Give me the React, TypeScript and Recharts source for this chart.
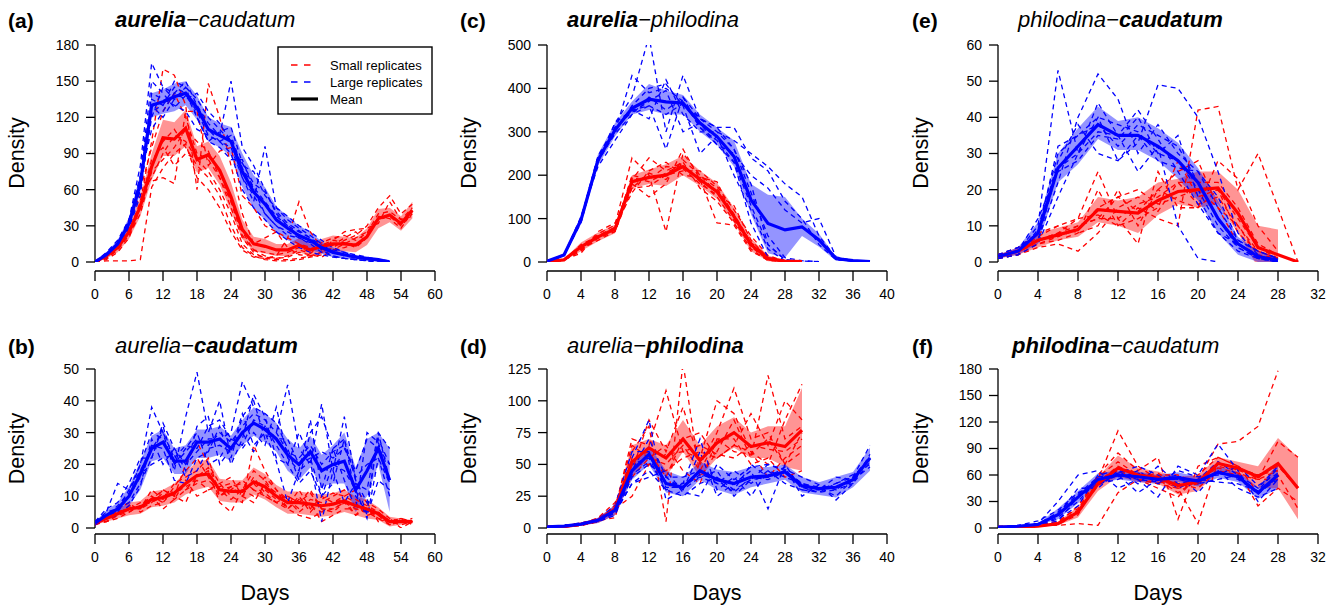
import React from 'react';
import { ComposedChart, Line, Area, XAxis, YAxis, ReferenceLine } from 'recharts';

const FONT = '"Liberation Sans", Arial, Helvetica, sans-serif';
const RED = '#ff0000';
const BLUE = '#0000ff';

// ---------- day categories ----------
const daysAB = [0, 2, 4, 6, 8, 10, 12, 14, 16, 18, 20, 22, 24, 26, 28, 30, 32, 34, 36, 38, 40, 42, 44, 46, 48, 50, 52, 54, 56];
const daysCD = [0, 2, 4, 6, 8, 10, 12, 14, 16, 18, 20, 22, 24, 26, 28, 30, 32, 34, 36, 38];
const daysEF = [0, 2, 4, 6, 8, 10, 12, 14, 16, 18, 20, 22, 24, 26, 28, 30];

// ---------- tick labels ----------
const xTicksAB = [0, 6, 12, 18, 24, 30, 36, 42, 48, 54, 60];
const xTicksCD = [0, 4, 8, 12, 16, 20, 24, 28, 32, 36, 40];
const xTicksEF = [0, 4, 8, 12, 16, 20, 24, 28, 32];
const yTicksA = [0, 30, 60, 90, 120, 150, 180];
const yTicksB = [0, 10, 20, 30, 40, 50];
const yTicksC = [0, 100, 200, 300, 400, 500];
const yTicksD = [0, 25, 50, 75, 100, 125];
const yTicksE = [0, 10, 20, 30, 40, 50, 60];
const yTicksF = [0, 30, 60, 90, 120, 150, 180];

// ---------- panel (a) ----------
const aSmall = [
  [0, 4, 12, 30, 60, 95, 125, 140, 120, 90, 85, 70, 45, 20, 8, 3, 2, 2, 3, 5, 8, 12, 18, 22, 30, 45, 55, 40, 48],
  [0, 2, 8, 20, 45, 80, 100, 110, 95, 80, 70, 55, 30, 12, 5, 2, 1, 1, 2, 4, 6, 10, 12, 15],
  [0, 5, 15, 35, 55, 70, 90, 105, 100, 85, 90, 75, 50, 25, 10, 5, 3, 4, 8, 6, 4, 10, 15, 20, 25, 35, 38, 30, 40],
  [0, 1, 1, 1, 2, 62, 78, 90, 98, 70, 60, 45, 25, 10, 4, 3, 5, 20, 50, 25, 12, 8],
  [0, 3, 10, 25, 50, 100, 160, 155, 130, 60, 148, 120, 80, 40, 15, 20, 25, 12, 6, 5, 8, 14, 20, 25, 16],
  [0, 4, 14, 28, 65, 67, 70, 65, 125, 125, 80, 92, 95, 55, 45, 30, 25, 20, 15, 12, 10, 18, 25, 27, 28, 32, 50, 35, 38],
  [0, 3, 10, 22, 40, 75, 85, 95, 110, 100, 92, 70, 50, 22, 10, 8, 6, 8, 12, 8, 16, 20, 22, 18, 24, 40, 42, 35, 45],
  [0, 5, 12, 26, 48, 85, 95, 80, 90, 85, 75, 60, 40, 15, 6, 4, 3, 5, 10, 7, 14, 18, 16, 12, 20, 38, 36, 28, 42],
];
const aLarge = [
  [0, 8, 18, 35, 80, 165, 145, 140, 150, 130, 115, 105, 150, 95, 80, 60, 40, 30, 25, 20, 10, 5, 3, 2, 1, 0, 0],
  [0, 5, 15, 30, 60, 120, 145, 135, 140, 120, 100, 95, 85, 85, 60, 40, 30, 25, 20, 15, 8, 5, 3, 2, 1],
  [0, 6, 12, 28, 55, 135, 130, 150, 145, 135, 120, 110, 100, 70, 50, 96, 45, 35, 28, 22, 15, 8, 5, 4, 3, 2, 1],
  [0, 4, 14, 32, 70, 110, 125, 140, 135, 140, 125, 115, 100, 80, 75, 55, 45, 38, 30, 25, 18, 12, 8, 5, 2, 1, 0],
  [0, 7, 16, 35, 65, 140, 135, 130, 125, 110, 105, 100, 90, 60, 45, 35, 25, 18, 12, 8, 6, 4, 3, 2, 1, 0],
  [0, 5, 15, 30, 60, 125, 130, 145, 140, 130, 110, 100, 95, 70, 55, 40, 30, 22, 20, 16, 12, 10, 8, 6, 4, 2, 0],
  [0, 6, 16, 34, 72, 150, 140, 128, 138, 125, 105, 100, 105, 78, 62, 50, 38, 30, 22, 18, 12, 8, 6, 4, 3, 2, 0],
  [0, 5, 14, 30, 62, 130, 120, 135, 145, 120, 100, 108, 112, 82, 65, 58, 42, 32, 26, 20, 14, 9, 6, 4, 2, 1, 0],
];
const aMeanSmall = [0, 5, 12, 25, 46, 79, 103, 102, 111, 85, 89, 76, 54, 27, 15, 13, 10, 10, 14, 10, 13, 15, 15, 14, 21, 36, 39, 32, 43];
const aLoSmall = [0, 3, 8, 19, 38, 68, 88, 88, 96, 74, 78, 64, 42, 19, 9, 7, 5, 5, 8, 5, 7, 8, 9, 8, 14, 28, 33, 26, 36];
const aHiSmall = [0, 7, 16, 31, 54, 90, 118, 116, 126, 96, 100, 88, 66, 35, 21, 19, 15, 15, 20, 15, 19, 22, 21, 20, 28, 44, 45, 38, 50];
const aMeanLarge = [0, 6, 15, 32, 65, 130, 133, 137, 140, 128, 110, 105, 100, 75, 58, 48, 35, 28, 22, 18, 12, 8, 6, 4, 3, 2, 0];
const aLoLarge = [0, 4, 12, 27, 57, 120, 123, 125, 130, 118, 100, 95, 88, 62, 44, 35, 24, 18, 14, 10, 7, 4, 3, 2, 1, 0, 0];
const aHiLarge = [0, 8, 18, 37, 73, 140, 143, 148, 150, 138, 120, 115, 112, 90, 72, 62, 46, 38, 30, 25, 17, 12, 9, 6, 4, 3, 1];

// ---------- panel (b) ----------
const bSmall = [
  [1, 2, 4, 5, 7, 8, 12, 10, 20, 27, 20, 14, 10, 8, 26, 18, 12, 6, 4, 3, 5, 8, 10, 12, 8, 6, 3, 2, 2],
  [2, 3, 5, 6, 6, 12, 9, 14, 16, 18, 22, 10, 13, 14, 12, 10, 8, 10, 8, 12, 6, 5, 8, 4, 6, 3, 2, 1, 2],
  [1, 4, 6, 8, 5, 7, 8, 12, 12, 14, 15, 12, 9, 12, 18, 15, 10, 6, 10, 5, 9, 11, 10, 8, 4, 5, 2, 3, 1],
  [2, 2, 3, 5, 7, 10, 6, 9, 15, 10, 12, 14, 16, 10, 8, 14, 11, 9, 5, 8, 2, 4, 6, 6, 5, 3, 1, 2, 2],
  [1, 3, 4, 7, 6, 9, 12, 10, 8, 16, 18, 8, 5, 12, 14, 10, 8, 7, 12, 6, 10, 8, 9, 4, 8, 2, 3, 0, 2],
  [2, 4, 5, 6, 8, 8, 10, 11, 13, 15, 12, 13, 14, 12, 10, 12, 9, 10, 8, 11, 6, 6, 8, 6, 5, 4, 1, 2, 3],
  [1, 3, 5, 6, 7, 10, 8, 13, 18, 22, 16, 10, 12, 15, 12, 16, 12, 9, 6, 9, 8, 10, 12, 9, 7, 5, 2, 2, 2],
  [2, 2, 4, 7, 6, 8, 11, 9, 12, 16, 19, 12, 13, 10, 16, 11, 8, 6, 9, 7, 5, 6, 8, 7, 6, 4, 2, 3, 2],
];
const bLarge = [
  [1, 5, 14, 12, 20, 38, 30, 18, 35, 49, 30, 40, 22, 35, 40, 28, 30, 45, 25, 20, 39, 18, 35, 15, 8, 28, 20],
  [2, 3, 6, 8, 14, 22, 33, 25, 20, 24, 28, 28, 30, 46, 38, 36, 33, 25, 15, 30, 35, 25, 28, 10, 5, 30, 15],
  [1, 4, 5, 10, 16, 26, 25, 15, 14, 22, 24, 32, 20, 28, 42, 35, 22, 20, 30, 22, 10, 20, 18, 12, 3, 22, 10],
  [2, 6, 8, 14, 22, 22, 32, 20, 25, 30, 20, 22, 28, 25, 30, 26, 38, 22, 18, 34, 12, 25, 15, 6, 30, 27, 14],
  [1, 3, 4, 7, 13, 28, 20, 25, 18, 32, 35, 20, 25, 30, 24, 32, 26, 20, 14, 18, 10, 14, 28, 15, 4, 15, 12],
  [2, 4, 6, 10, 17, 20, 22, 23, 16, 18, 25, 26, 24, 36, 26, 30, 21, 8, 18, 21, 2, 18, 8, 14, 12, 30, 25],
  [1, 4, 7, 11, 20, 30, 28, 20, 24, 28, 26, 30, 27, 32, 36, 34, 30, 24, 22, 26, 20, 24, 26, 16, 20, 22, 14],
  [2, 5, 6, 12, 18, 25, 30, 22, 26, 25, 32, 34, 28, 26, 34, 32, 28, 28, 20, 22, 24, 22, 25, 18, 28, 25, 20],
];
const bMeanSmall = [1.5, 3, 4.5, 6, 6.5, 9, 9.5, 11, 14, 16.5, 17, 12, 11.5, 11.5, 14.5, 13, 10, 8, 8, 7.5, 7, 7.5, 8.5, 7, 6, 4.5, 2, 2, 2];
const bLoSmall = [1, 2, 3, 4, 4.5, 6.5, 7, 8, 10.5, 12, 13, 8.5, 8, 8, 10.5, 9, 6.5, 4.5, 4.5, 4, 3.5, 4, 5, 4, 3, 2.5, 0.5, 1, 1.5];
const bHiSmall = [2, 4, 6, 8, 8.5, 11.5, 12, 14, 17.5, 21, 21.5, 15.5, 15, 15, 19, 17, 13.5, 11.5, 11.5, 11, 10.5, 11, 12, 10, 9, 6.5, 3.5, 3, 2.5];
const bMeanLarge = [1.5, 4, 6, 10, 17, 25, 27, 21, 21, 27, 27, 28, 25, 30, 33, 31, 28, 23, 20, 24, 18, 20, 21, 12, 18, 25, 15];
const bLoLarge = [1, 2.5, 4, 7, 12, 21, 22, 17, 17, 22, 22, 23, 21, 26, 29, 27, 24, 18, 15, 19, 13, 14, 14, 5, 10, 20, 5];
const bHiLarge = [2, 5.5, 8, 13, 21, 29, 31, 25, 26, 31, 31, 32, 29, 34, 38, 36, 33, 28, 25, 29, 23, 26, 30, 19, 28, 30, 25];

// ---------- panel (c) ----------
const cSmall = [
  [1, 5, 25, 65, 85, 240, 200, 70, 250, 200, 160, 110, 35, 5, 1, 1],
  [1, 4, 35, 55, 75, 190, 240, 210, 230, 170, 140, 90, 30, 3, 1, 1],
  [1, 6, 20, 70, 90, 170, 175, 200, 210, 210, 175, 120, 60, 15, 2, 1],
  [1, 5, 30, 50, 70, 180, 150, 180, 260, 190, 90, 85, 25, 5, 1],
  [1, 4, 35, 60, 80, 160, 210, 230, 200, 195, 185, 100, 40, 8, 2, 1],
  [1, 6, 28, 58, 75, 200, 190, 220, 215, 180, 155, 130, 50, 10, 2, 1],
  [1, 5, 40, 60, 80, 195, 185, 205, 225, 185, 150, 95, 35, 6, 1, 1],
  [1, 4, 30, 55, 70, 170, 205, 190, 235, 200, 170, 110, 45, 12, 2, 1],
];
const cLarge = [
  [2, 14, 100, 230, 320, 380, 520, 300, 430, 330, 310, 260, 180, 40, 5, 2, 1],
  [2, 16, 95, 240, 300, 430, 390, 400, 370, 310, 270, 230, 90, 10, 3, 1],
  [1, 15, 100, 235, 320, 350, 330, 420, 340, 300, 300, 280, 250, 220, 180, 150, 60, 10, 3, 2],
  [2, 16, 105, 220, 280, 340, 360, 260, 380, 330, 310, 310, 240, 210, 140, 100, 40, 5, 2, 1],
  [2, 14, 95, 230, 300, 360, 400, 410, 360, 250, 290, 200, 120, 30, 2, 1],
  [1, 15, 100, 240, 310, 345, 370, 395, 300, 320, 270, 250, 200, 170, 120, 90, 100, 12, 3, 1],
  [2, 15, 100, 245, 310, 350, 360, 340, 365, 330, 300, 260, 160, 60, 10, 3, 1],
  [2, 16, 90, 235, 295, 340, 380, 350, 380, 310, 280, 230, 130, 40, 5, 2],
];
const cMeanSmall = [1, 5, 35, 58, 76, 185, 195, 200, 220, 190, 162, 105, 40, 8, 2, 1];
const cLoSmall = [0, 3, 25, 48, 66, 170, 180, 175, 200, 175, 145, 90, 25, 2, 0, 0];
const cHiSmall = [2, 7, 45, 68, 86, 200, 213, 225, 245, 210, 182, 125, 55, 15, 4, 2];
const cMeanLarge = [2, 16, 97, 235, 304, 354, 375, 369, 366, 320, 289, 243, 143, 89, 74, 81, 51, 8, 3, 1];
const cLoLarge = [1, 12, 88, 222, 290, 340, 350, 340, 340, 300, 270, 220, 110, 20, 10, 60, 35, 3, 1, 0];
const cHiLarge = [3, 20, 106, 248, 320, 370, 410, 395, 385, 340, 310, 280, 180, 155, 150, 100, 65, 12, 5, 2];

// ---------- panel (d) ----------
const dSmall = [
  [1, 1, 2, 5, 12, 60, 80, 5, 130, 40, 60, 85, 55, 120, 70, 80],
  [1, 1, 3, 6, 15, 70, 65, 108, 60, 55, 100, 90, 60, 50, 85, 113],
  [1, 2, 3, 8, 20, 45, 85, 60, 95, 50, 75, 110, 70, 75, 50, 60],
  [1, 1, 4, 6, 8, 55, 60, 40, 70, 75, 55, 65, 90, 65, 100, 85],
  [1, 1, 2, 5, 18, 40, 55, 65, 45, 35, 70, 70, 50, 55, 40, 45],
  [1, 2, 3, 7, 15, 25, 50, 45, 55, 60, 55, 65, 60, 40, 55, 65],
  [1, 1, 3, 6, 16, 65, 55, 50, 65, 45, 70, 60, 58, 70, 50, 75],
  [1, 2, 3, 6, 12, 50, 50, 58, 60, 65, 58, 55, 65, 62, 60, 70],
];
const dLarge = [
  [1, 2, 3, 6, 14, 55, 85, 22, 30, 60, 25, 35, 45, 15, 50, 30, 28, 35, 40, 65],
  [1, 1, 3, 5, 10, 40, 50, 40, 30, 40, 45, 25, 38, 50, 45, 35, 32, 25, 38, 55],
  [1, 2, 4, 7, 18, 60, 60, 35, 35, 70, 30, 40, 25, 45, 35, 30, 30, 35, 42, 50],
  [1, 1, 3, 6, 12, 35, 45, 30, 25, 35, 40, 30, 50, 40, 48, 25, 34, 30, 35, 58],
  [1, 2, 2, 6, 16, 45, 70, 40, 40, 45, 35, 45, 35, 45, 40, 35, 30, 40, 38, 48],
  [1, 2, 3, 5, 12, 35, 40, 45, 28, 25, 50, 38, 48, 50, 46, 40, 34, 22, 35, 52],
  [1, 1, 3, 6, 15, 50, 55, 30, 35, 40, 35, 30, 38, 40, 45, 35, 30, 32, 36, 55],
  [1, 2, 3, 5, 12, 42, 52, 32, 32, 42, 38, 28, 40, 38, 44, 32, 28, 30, 40, 56],
];
const dMeanSmall = [1, 1, 3, 6, 15, 52, 63, 55, 70, 53, 67, 75, 64, 67, 64, 77];
const dLoSmall = [0.5, 0.5, 2, 4, 10, 40, 55, 40, 60, 40, 55, 63, 55, 55, 48, 45];
const dHiSmall = [1.5, 1.5, 4, 8, 18, 65, 70, 65, 85, 65, 80, 87, 75, 80, 80, 110];
const dMeanLarge = [1, 1.5, 3, 6, 14, 45, 58, 35, 32, 45, 38, 35, 40, 41, 44, 33, 31, 32, 38, 55];
const dLoLarge = [0.5, 1, 2, 4, 10, 38, 50, 28, 25, 38, 30, 26, 32, 35, 38, 28, 26, 24, 32, 45];
const dHiLarge = [1.5, 2, 4, 8, 18, 52, 65, 45, 40, 52, 46, 44, 48, 48, 50, 40, 36, 40, 44, 63];

// ---------- panel (e) ----------
const eSmall = [
  [1, 2, 5, 6, 8, 20, 10, 15, 12, 10, 42, 43, 20, 30, 15, 0],
  [2, 3, 7, 10, 12, 25, 12, 5, 25, 15, 15, 28, 23, 10, 3],
  [1, 2, 4, 5, 3, 8, 15, 18, 14, 22, 22, 22, 15, 5, 2],
  [2, 4, 8, 10, 8, 10, 20, 10, 20, 25, 28, 15, 10, 2, 1],
  [1, 3, 6, 8, 12, 13, 10, 12, 15, 28, 18, 20, 8, 3, 1],
  [2, 3, 6, 7, 10, 12, 18, 20, 16, 18, 20, 15, 5, 1, 1],
  [1, 3, 5, 7, 9, 15, 18, 14, 20, 17, 15, 20, 12, 4, 1],
  [2, 3, 6, 8, 10, 12, 12, 16, 18, 22, 16, 18, 10, 3, 1],
];
const eLarge = [
  [1, 3, 10, 53, 30, 40, 28, 33, 49, 48, 40, 25, 8, 2],
  [2, 4, 6, 22, 40, 52, 45, 30, 38, 30, 25, 18, 6, 3, 1],
  [1, 2, 9, 30, 35, 38, 32, 38, 35, 32, 22, 12, 4, 1, 0],
  [2, 3, 12, 25, 28, 35, 34, 40, 30, 35, 18, 8, 5, 2, 0],
  [1, 2, 5, 18, 30, 44, 35, 25, 32, 10, 1, 0],
  [2, 4, 8, 28, 38, 30, 28, 35, 28, 26, 25, 15, 6, 3, 1],
  [1, 3, 8, 32, 35, 40, 38, 36, 30, 28, 20, 10, 4, 1, 0],
  [2, 3, 6, 26, 30, 36, 35, 42, 34, 25, 16, 8, 3, 1, 0],
];
const eMeanSmall = [1.5, 3, 6, 7.5, 9, 14.5, 14, 13.5, 17, 19.5, 20, 20.5, 13.5, 4, 2, 0];
const eLoSmall = [1, 2, 4, 6, 7, 11, 10, 8, 13, 16, 15, 16, 8, -1.5, -1.5];
const eHiSmall = [2, 4, 8, 9.5, 11, 18, 17, 18, 22, 23, 25, 25, 20, 10, 9];
const eMeanLarge = [1.5, 3, 8, 26, 32, 38, 35, 35, 32, 28, 22, 12, 5, 1.5, 0.5];
const eLoLarge = [1, 2, 5, 22, 27, 34, 31, 31, 28, 23, 17, 8, 2, 0, 0];
const eHiLarge = [2, 4, 11, 30, 37, 43, 39, 40, 37, 33, 26, 17, 7, 3, 1];

// ---------- panel (f) ----------
const fSmall = [
  [1, 1, 2, 4, 15, 55, 110, 70, 55, 40, 55, 95, 98, 115, 178],
  [1, 1, 2, 5, 20, 60, 85, 65, 80, 10, 70, 80, 70, 55, 98, 80],
  [1, 1, 3, 3, 5, 3, 40, 55, 50, 45, 5, 75, 65, 25, 45, 30],
  [1, 2, 2, 6, 25, 58, 75, 60, 60, 60, 50, 70, 65, 60, 65],
  [1, 1, 3, 8, 22, 55, 65, 55, 45, 35, 60, 80, 70, 40, 60, 22],
  [1, 2, 2, 5, 18, 50, 60, 58, 62, 50, 45, 65, 60, 55, 55],
  [1, 1, 2, 5, 20, 52, 70, 60, 55, 45, 50, 72, 68, 60, 70, 45],
  [1, 2, 3, 6, 18, 48, 62, 55, 52, 50, 55, 68, 62, 55, 65],
];
const fLarge = [
  [1, 2, 5, 30, 60, 65, 45, 55, 35, 70, 60, 95, 65, 30, 55],
  [1, 3, 8, 20, 40, 50, 60, 40, 55, 60, 40, 65, 45, 35, 45],
  [1, 2, 3, 12, 30, 55, 62, 70, 60, 45, 55, 75, 60, 45, 70],
  [1, 2, 4, 10, 25, 60, 65, 60, 58, 55, 50, 55, 60, 40, 60],
  [1, 1, 3, 8, 35, 50, 55, 65, 50, 65, 58, 60, 70, 48, 62],
  [2, 2, 4, 15, 45, 45, 65, 50, 70, 50, 55, 52, 50, 42, 68],
  [1, 2, 4, 18, 38, 58, 60, 55, 52, 58, 52, 62, 58, 38, 58],
  [1, 2, 5, 16, 35, 55, 58, 62, 55, 55, 50, 65, 55, 40, 55],
];
const fMeanSmall = [1, 1, 2, 5, 18, 50, 68, 60, 57, 48, 52, 73, 68, 58, 73, 45];
const fLoSmall = [0.5, 0.5, 1, 3, 12, 42, 58, 52, 50, 38, 42, 63, 60, 45, 45, 10];
const fHiSmall = [1.5, 1.5, 3, 7, 24, 58, 82, 68, 64, 58, 60, 80, 75, 70, 102, 80];
const fMeanLarge = [1, 2, 4, 15, 35, 55, 60, 58, 55, 57, 53, 63, 58, 40, 60];
const fLoLarge = [0.5, 1, 3, 10, 28, 50, 55, 52, 50, 52, 47, 57, 52, 33, 45];
const fHiLarge = [1.5, 3, 5, 22, 42, 62, 65, 64, 60, 63, 58, 70, 64, 46, 73];

// ---------- layout ----------
type Row = { yTop: number; yZero: number; pad: number };
const TOP_ROW: Row = { yTop: 45, yZero: 262, pad: 9 };
const BOTTOM_ROW: Row = { yTop: 369, yZero: 528, pad: 6 };

type PanelDef = {
  days: number[];
  small: number[][];
  large: number[][];
  meanS: number[]; loS: number[]; hiS: number[];
  meanL: number[]; loL: number[]; hiL: number[];
  xMax: number; xTicks: number[];
  yMax: number; yTicks: number[];
  x0: number; x1: number; row: Row;
};

const panels: PanelDef[] = [
  { days: daysAB, small: aSmall, large: aLarge, meanS: aMeanSmall, loS: aLoSmall, hiS: aHiSmall, meanL: aMeanLarge, loL: aLoLarge, hiL: aHiLarge, xMax: 60, xTicks: xTicksAB, yMax: 180, yTicks: yTicksA, x0: 95, x1: 435, row: TOP_ROW },
  { days: daysAB, small: bSmall, large: bLarge, meanS: bMeanSmall, loS: bLoSmall, hiS: bHiSmall, meanL: bMeanLarge, loL: bLoLarge, hiL: bHiLarge, xMax: 60, xTicks: xTicksAB, yMax: 50, yTicks: yTicksB, x0: 95, x1: 435, row: BOTTOM_ROW },
  { days: daysCD, small: cSmall, large: cLarge, meanS: cMeanSmall, loS: cLoSmall, hiS: cHiSmall, meanL: cMeanLarge, loL: cLoLarge, hiL: cHiLarge, xMax: 40, xTicks: xTicksCD, yMax: 500, yTicks: yTicksC, x0: 547, x1: 887, row: TOP_ROW },
  { days: daysCD, small: dSmall, large: dLarge, meanS: dMeanSmall, loS: dLoSmall, hiS: dHiSmall, meanL: dMeanLarge, loL: dLoLarge, hiL: dHiLarge, xMax: 40, xTicks: xTicksCD, yMax: 125, yTicks: yTicksD, x0: 547, x1: 887, row: BOTTOM_ROW },
  { days: daysEF, small: eSmall, large: eLarge, meanS: eMeanSmall, loS: eLoSmall, hiS: eHiSmall, meanL: eMeanLarge, loL: eLoLarge, hiL: eHiLarge, xMax: 32, xTicks: xTicksEF, yMax: 60, yTicks: yTicksE, x0: 998, x1: 1318, row: TOP_ROW },
  { days: daysEF, small: fSmall, large: fLarge, meanS: fMeanSmall, loS: fLoSmall, hiS: fHiSmall, meanL: fMeanLarge, loL: fLoLarge, hiL: fHiLarge, xMax: 32, xTicks: xTicksEF, yMax: 180, yTicks: yTicksF, x0: 998, x1: 1318, row: BOTTOM_ROW },
];

function buildRows(p: PanelDef) {
  return p.days.map((d, i) => {
    const r: Record<string, unknown> = { day: d };
    p.small.forEach((s, k) => { r['s' + k] = s[i] ?? null; });
    p.large.forEach((s, k) => { r['l' + k] = s[i] ?? null; });
    r.mS = p.meanS[i] ?? null;
    r.mL = p.meanL[i] ?? null;
    r.bS = p.loS[i] != null && p.hiS[i] != null ? [p.loS[i], p.hiS[i]] : null;
    r.bL = p.loL[i] != null && p.hiL[i] != null ? [p.loL[i], p.hiL[i]] : null;
    return r;
  });
}

const tickStyle = { fill: '#000', fontSize: 14, fontFamily: FONT };
const axisStroke = { stroke: '#000', strokeWidth: 1.3 };

function Panel({ p }: { p: PanelDef }) {
  const rows = buildRows(p);
  const YW = 60, ML = 10, MT = 8, XH = 32, MB = 2, MR = 14;
  const plotTop = p.row.yTop - p.row.pad;
  const plotBottom = p.row.yZero + p.row.pad;
  const plotW = p.x1 - p.x0;
  const width = ML + YW + plotW + MR;
  const height = MT + (plotBottom - plotTop) + XH + MB;
  return (
    <div style={{ position: 'absolute', left: p.x0 - YW - ML, top: plotTop - MT }}>
      <ComposedChart width={width} height={height} data={rows} margin={{ top: MT, right: MR, bottom: MB, left: ML }}>
        <XAxis dataKey="day" type="number" domain={[0, p.xMax]} ticks={p.xTicks} allowDataOverflow interval={0}
          height={XH} tickSize={10} tickMargin={8} axisLine={axisStroke} tickLine={axisStroke} tick={tickStyle} />
        <YAxis type="number" domain={[0, p.yMax]} ticks={p.yTicks} allowDataOverflow interval={0} width={YW}
          padding={{ top: p.row.pad, bottom: p.row.pad }} axisLine={false} tickSize={9} tickMargin={7}
          tickLine={axisStroke} tick={tickStyle} />
        <ReferenceLine segment={[{ x: 0, y: 0 }, { x: 0, y: p.yMax }]} stroke="#000" strokeWidth={1.3} ifOverflow="visible" />
        <Area dataKey="bS" type="linear" stroke="none" fill={RED} fillOpacity={0.42} dot={false} activeDot={false} isAnimationActive={false} />
        <Area dataKey="bL" type="linear" stroke="none" fill={BLUE} fillOpacity={0.42} dot={false} activeDot={false} isAnimationActive={false} />
        {p.small.map((_, k) => (
          <Line key={'s' + k} dataKey={'s' + k} type="linear" stroke={RED} strokeWidth={1.3} strokeDasharray="5 4"
            dot={false} activeDot={false} isAnimationActive={false} />
        ))}
        {p.large.map((_, k) => (
          <Line key={'l' + k} dataKey={'l' + k} type="linear" stroke={BLUE} strokeWidth={1.3} strokeDasharray="5 4"
            dot={false} activeDot={false} isAnimationActive={false} />
        ))}
        <Line dataKey="mS" type="linear" stroke={RED} strokeWidth={3.2} dot={false} activeDot={false} isAnimationActive={false} />
        <Line dataKey="mL" type="linear" stroke={BLUE} strokeWidth={3.2} dot={false} activeDot={false} isAnimationActive={false} />
      </ComposedChart>
    </div>
  );
}

const letters = [
  { t: '(a)', x: 8, y: 28 }, { t: '(c)', x: 460, y: 28 }, { t: '(e)', x: 912, y: 28 },
  { t: '(b)', x: 8, y: 354 }, { t: '(d)', x: 460, y: 354 }, { t: '(f)', x: 912, y: 354 },
];
const titles = [
  { x: 115, y: 27, parts: [['aurelia', true], ['\u2212caudatum', false]] },
  { x: 115, y: 353, parts: [['aurelia\u2212', false], ['caudatum', true]] },
  { x: 567, y: 27, parts: [['aurelia', true], ['\u2212philodina', false]] },
  { x: 567, y: 353, parts: [['aurelia\u2212', false], ['philodina', true]] },
  { x: 1018, y: 27, parts: [['philodina\u2212', false], ['caudatum', true]] },
  { x: 1012, y: 353, parts: [['philodina', true], ['\u2212caudatum', false]] },
];

function Overlay() {
  const densityX = [24, 476, 928];
  const densityY = [153, 448.5];
  const daysX = [265, 717, 1158];
  return (
    <svg width={1339} height={608} style={{ position: 'absolute', left: 0, top: 0, pointerEvents: 'none' }}
      fontFamily={FONT}>
      {letters.map((l) => (
        <text key={l.t} x={l.x} y={l.y} fontSize={21} fontWeight="bold" fill="#000">{l.t}</text>
      ))}
      {titles.map((t, i) => (
        <text key={i} x={t.x} y={t.y} fontSize={22} fontStyle="italic" fill="#000">
          {t.parts.map(([s, b], j) => (
            <tspan key={j} fontWeight={b ? 'bold' : 'normal'}>{s as string}</tspan>
          ))}
        </text>
      ))}
      {densityX.map((x) => densityY.map((y) => (
        <text key={x + '-' + y} x={x} y={y} fontSize={21.5} textAnchor="middle" fill="#000"
          transform={`rotate(-90 ${x} ${y})`}>Density</text>
      )))}
      {daysX.map((x) => (
        <text key={x} x={x} y={600} fontSize={21.5} textAnchor="middle" fill="#000">Days</text>
      ))}
      <g>
        <rect x={278} y={47} width={154} height={67} fill="#fff" stroke="#000" strokeWidth={1.4} />
        <line x1={291} y1={65} x2={311} y2={65} stroke={RED} strokeWidth={1.4} strokeDasharray="6.5 6.5" />
        <line x1={291} y1={82} x2={311} y2={82} stroke={BLUE} strokeWidth={1.4} strokeDasharray="6.5 6.5" />
        <line x1={291} y1={99} x2={318} y2={99} stroke="#000" strokeWidth={3.2} />
        <text x={330} y={69.5} fontSize={13} fill="#000">Small replicates</text>
        <text x={330} y={86.5} fontSize={13} fill="#000">Large replicates</text>
        <text x={330} y={103.5} fontSize={13} fill="#000">Mean</text>
      </g>
    </svg>
  );
}

export default function App() {
  return (
    <div style={{ position: 'absolute', left: 0, top: 0, width: 1339, height: 608, background: '#fff', fontFamily: FONT }}>
      {panels.map((p, i) => <Panel key={i} p={p} />)}
      <Overlay />
    </div>
  );
}
